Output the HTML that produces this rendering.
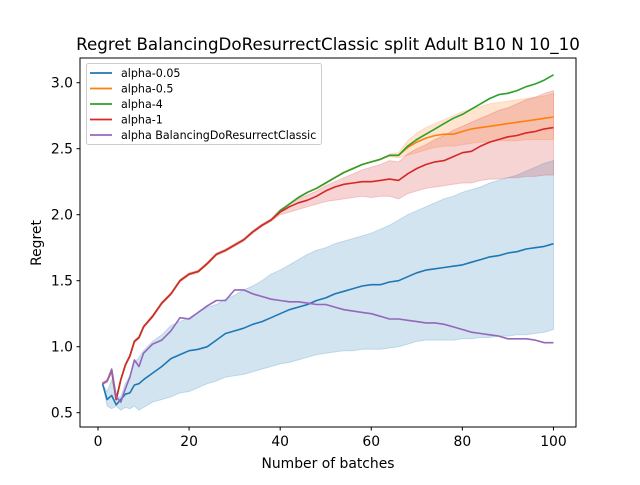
<!DOCTYPE html>
<html><head><meta charset="utf-8"><style>
body{margin:0;background:#fff}
svg{font-family:"DejaVu Sans","Liberation Sans",sans-serif}
</style></head><body>
<svg id="chart" width="640" height="480" viewBox="0 0 640 480">
<rect width="640" height="480" fill="#fff"/>
<text x="328" y="50" text-anchor="middle" font-size="16.7" fill="#000">Regret BalancingDoResurrectClassic split Adult B10 N 10_10</text>
<g id="bands"></g><g id="lines"></g>
<rect x="80" y="58" width="496" height="369" fill="none" stroke="#000" stroke-width="1"/>
<g id="axes"></g>
<text x="328" y="468" text-anchor="middle" font-size="13.9">Number of batches</text>
<text transform="translate(41,243) rotate(-90)" text-anchor="middle" font-size="13.9">Regret</text>
<g id="legend">
<rect x="86.5" y="63.5" width="235" height="81" rx="2" fill="#fff" fill-opacity="0.8" stroke="#ccc"/>
</g>
</svg>
<script>
const xs=[1,2,3,4,5,6,7,8,9,10,12,14,16,18,20,22,24,26,28,30,32,34,36,38,40,42,44,46,48,50,52,54,56,58,60,62,64,66,68,70,72,74,76,78,80,82,84,86,88,90,92,94,96,98,100];
const red=[0.72,0.74,0.82,0.6,0.75,0.86,0.93,1.04,1.07,1.15,1.23,1.33,1.40,1.50,1.55,1.57,1.63,1.70,1.73,1.77,1.81,1.87,1.92,1.96,2.02,2.06,2.09,2.11,2.14,2.18,2.21,2.23,2.24,2.25,2.25,2.26,2.27,2.26,2.31,2.35,2.38,2.40,2.41,2.44,2.47,2.48,2.52,2.55,2.57,2.59,2.60,2.62,2.63,2.65,2.66];
const redLo=[0.71,0.73,0.81,0.59,0.74,0.85,0.92,1.03,1.06,1.14,1.22,1.32,1.39,1.49,1.54,1.56,1.62,1.69,1.72,1.76,1.80,1.86,1.91,1.95,2.00,2.02,2.04,2.06,2.08,2.10,2.11,2.12,2.13,2.14,2.13,2.14,2.14,2.12,2.16,2.18,2.20,2.21,2.22,2.23,2.24,2.24,2.26,2.27,2.27,2.28,2.28,2.29,2.29,2.30,2.30];
const redHi=[0.73,0.75,0.83,0.61,0.76,0.87,0.94,1.05,1.08,1.16,1.24,1.34,1.41,1.51,1.56,1.58,1.64,1.71,1.74,1.78,1.82,1.88,1.93,1.97,2.04,2.08,2.12,2.15,2.18,2.22,2.25,2.28,2.31,2.34,2.36,2.38,2.41,2.40,2.46,2.50,2.53,2.57,2.60,2.64,2.67,2.70,2.73,2.76,2.79,2.81,2.84,2.87,2.89,2.92,2.94];
const green=[0.72,0.74,0.82,0.6,0.75,0.86,0.93,1.04,1.07,1.15,1.23,1.33,1.40,1.50,1.55,1.57,1.63,1.70,1.73,1.77,1.81,1.87,1.92,1.96,2.03,2.08,2.13,2.17,2.20,2.24,2.28,2.32,2.35,2.38,2.40,2.42,2.45,2.45,2.52,2.57,2.61,2.65,2.69,2.73,2.76,2.80,2.84,2.88,2.91,2.92,2.94,2.97,2.99,3.02,3.06];
const orange=[0.72,0.74,0.82,0.6,0.75,0.86,0.93,1.04,1.07,1.15,1.23,1.33,1.40,1.50,1.55,1.57,1.63,1.70,1.73,1.77,1.81,1.87,1.92,1.96,2.03,2.08,2.13,2.17,2.20,2.24,2.28,2.32,2.35,2.38,2.40,2.42,2.45,2.45,2.51,2.55,2.58,2.60,2.61,2.61,2.63,2.65,2.66,2.67,2.68,2.69,2.70,2.71,2.72,2.73,2.74];
const orangeLo=[0.72,0.74,0.82,0.6,0.75,0.86,0.93,1.04,1.07,1.15,1.23,1.33,1.40,1.50,1.55,1.57,1.63,1.70,1.73,1.77,1.81,1.87,1.92,1.96,2.03,2.08,2.13,2.17,2.20,2.24,2.28,2.32,2.35,2.38,2.40,2.42,2.44,2.43,2.45,2.47,2.49,2.51,2.52,2.52,2.53,2.54,2.55,2.55,2.56,2.56,2.56,2.57,2.57,2.57,2.57];
const orangeHi=[0.72,0.74,0.82,0.6,0.75,0.86,0.93,1.04,1.07,1.15,1.23,1.33,1.40,1.50,1.55,1.57,1.63,1.70,1.73,1.77,1.81,1.87,1.92,1.96,2.03,2.08,2.13,2.17,2.20,2.24,2.28,2.32,2.35,2.38,2.40,2.42,2.46,2.47,2.56,2.62,2.66,2.69,2.72,2.75,2.78,2.80,2.82,2.84,2.85,2.86,2.87,2.88,2.89,2.90,2.92];
const blue=[0.72,0.60,0.63,0.56,0.60,0.64,0.65,0.71,0.72,0.75,0.80,0.85,0.91,0.94,0.97,0.98,1.00,1.05,1.10,1.12,1.14,1.17,1.19,1.22,1.25,1.28,1.30,1.32,1.35,1.37,1.40,1.42,1.44,1.46,1.47,1.47,1.49,1.50,1.53,1.56,1.58,1.59,1.60,1.61,1.62,1.64,1.66,1.68,1.69,1.71,1.72,1.74,1.75,1.76,1.78];
const blueLo=[0.72,0.55,0.53,0.55,0.52,0.54,0.53,0.55,0.52,0.54,0.58,0.60,0.62,0.65,0.66,0.69,0.72,0.74,0.77,0.78,0.79,0.81,0.83,0.85,0.87,0.88,0.90,0.92,0.94,0.95,0.96,0.97,0.97,0.98,0.98,0.98,0.99,1.00,1.02,1.04,1.05,1.05,1.05,1.05,1.06,1.06,1.07,1.07,1.08,1.08,1.09,1.09,1.10,1.11,1.13];
const blueHi=[0.72,0.66,0.75,0.62,0.62,0.72,0.78,0.88,0.92,0.97,1.04,1.09,1.16,1.19,1.22,1.26,1.30,1.32,1.36,1.39,1.43,1.46,1.50,1.55,1.58,1.62,1.66,1.70,1.73,1.75,1.78,1.80,1.82,1.84,1.86,1.89,1.92,1.96,2.00,2.03,2.06,2.09,2.12,2.14,2.17,2.19,2.21,2.24,2.26,2.28,2.30,2.33,2.36,2.39,2.41];
const purple=[0.72,0.74,0.83,0.62,0.58,0.68,0.77,0.90,0.85,0.95,1.02,1.05,1.12,1.22,1.21,1.26,1.31,1.35,1.35,1.43,1.43,1.40,1.38,1.36,1.35,1.34,1.34,1.33,1.32,1.32,1.30,1.28,1.27,1.26,1.25,1.23,1.21,1.21,1.20,1.19,1.18,1.18,1.17,1.15,1.13,1.11,1.10,1.09,1.08,1.06,1.06,1.06,1.05,1.03,1.03];
const xTicks=[0,20,40,60,80,100];
const yTicks=[0.5,1.0,1.5,2.0,2.5,3.0];
const legendLabels=["alpha-0.05","alpha-0.5","alpha-4","alpha-1","alpha BalancingDoResurrectClassic"];
const colors=["#1f77b4","#ff7f0e","#2ca02c","#d62728","#9467bd"];

const NS="http://www.w3.org/2000/svg";
const X=v=>80+(v+3.95)/108.9*496;
const Y=v=>412.7-(v-0.5)*132;
function mk(tag,attrs,parent){const e=document.createElementNS(NS,tag);for(const k in attrs)e.setAttribute(k,attrs[k]);parent.appendChild(e);return e;}
const bands=document.getElementById('bands'),lines=document.getElementById('lines'),axes=document.getElementById('axes'),legend=document.getElementById('legend');
function band(lo,hi,color,name){
  let d=xs.map((x,i)=>(i?'L':'M')+X(x).toFixed(1)+','+Y(hi[i]).toFixed(1)).join('');
  for(let i=xs.length-1;i>=0;i--)d+='L'+X(xs[i]).toFixed(1)+','+Y(lo[i]).toFixed(1);
  const p=mk('path',{d:d+'Z',fill:color,'fill-opacity':0.2,stroke:color,'stroke-opacity':0.2},bands);
  
  
}
function line(ys,color,name){
  const d=xs.map((x,i)=>(i?'L':'M')+X(x).toFixed(1)+','+Y(ys[i]).toFixed(1)).join('');
  const p=mk('path',{d:d,fill:'none',stroke:color,'stroke-width':1.6,'stroke-linejoin':'round'},lines);
  
  
}
band(blueLo,blueHi,colors[0],'band-alpha-0.05');
band(orangeLo,orangeHi,colors[1],'band-alpha-0.5');
band(redLo,redHi,colors[3],'band-alpha-1');
line(blue,colors[0],'line-alpha-0.05');
line(orange,colors[1],'line-alpha-0.5');
line(green,colors[2],'line-alpha-4');
line(red,colors[3],'line-alpha-1');
line(purple,colors[4],'line-alpha-balancing');
xTicks.forEach(t=>{
  mk('line',{x1:X(t),x2:X(t),y1:427,y2:430.5,stroke:'#000'},axes);
  const tx=mk('text',{x:X(t),y:446,'text-anchor':'middle','font-size':13.9},axes);
  tx.textContent=t;
  
  
});
yTicks.forEach(t=>{
  mk('line',{x1:76.5,x2:80,y1:Y(t),y2:Y(t),stroke:'#000'},axes);
  const tx=mk('text',{x:73,y:Y(t)+5,'text-anchor':'end','font-size':13.9},axes);
  tx.textContent=t.toFixed(1);
  
  
});
legendLabels.forEach((l,i)=>{
  const y=73+i*15.5;
  mk('line',{x1:90,x2:112,y1:y,y2:y,stroke:colors[i],'stroke-width':1.8},legend);
  const tx=mk('text',{x:121,y:y+4,'font-size':11.1},legend);
  tx.textContent=l;
  
  
});
</script>
</body></html>
